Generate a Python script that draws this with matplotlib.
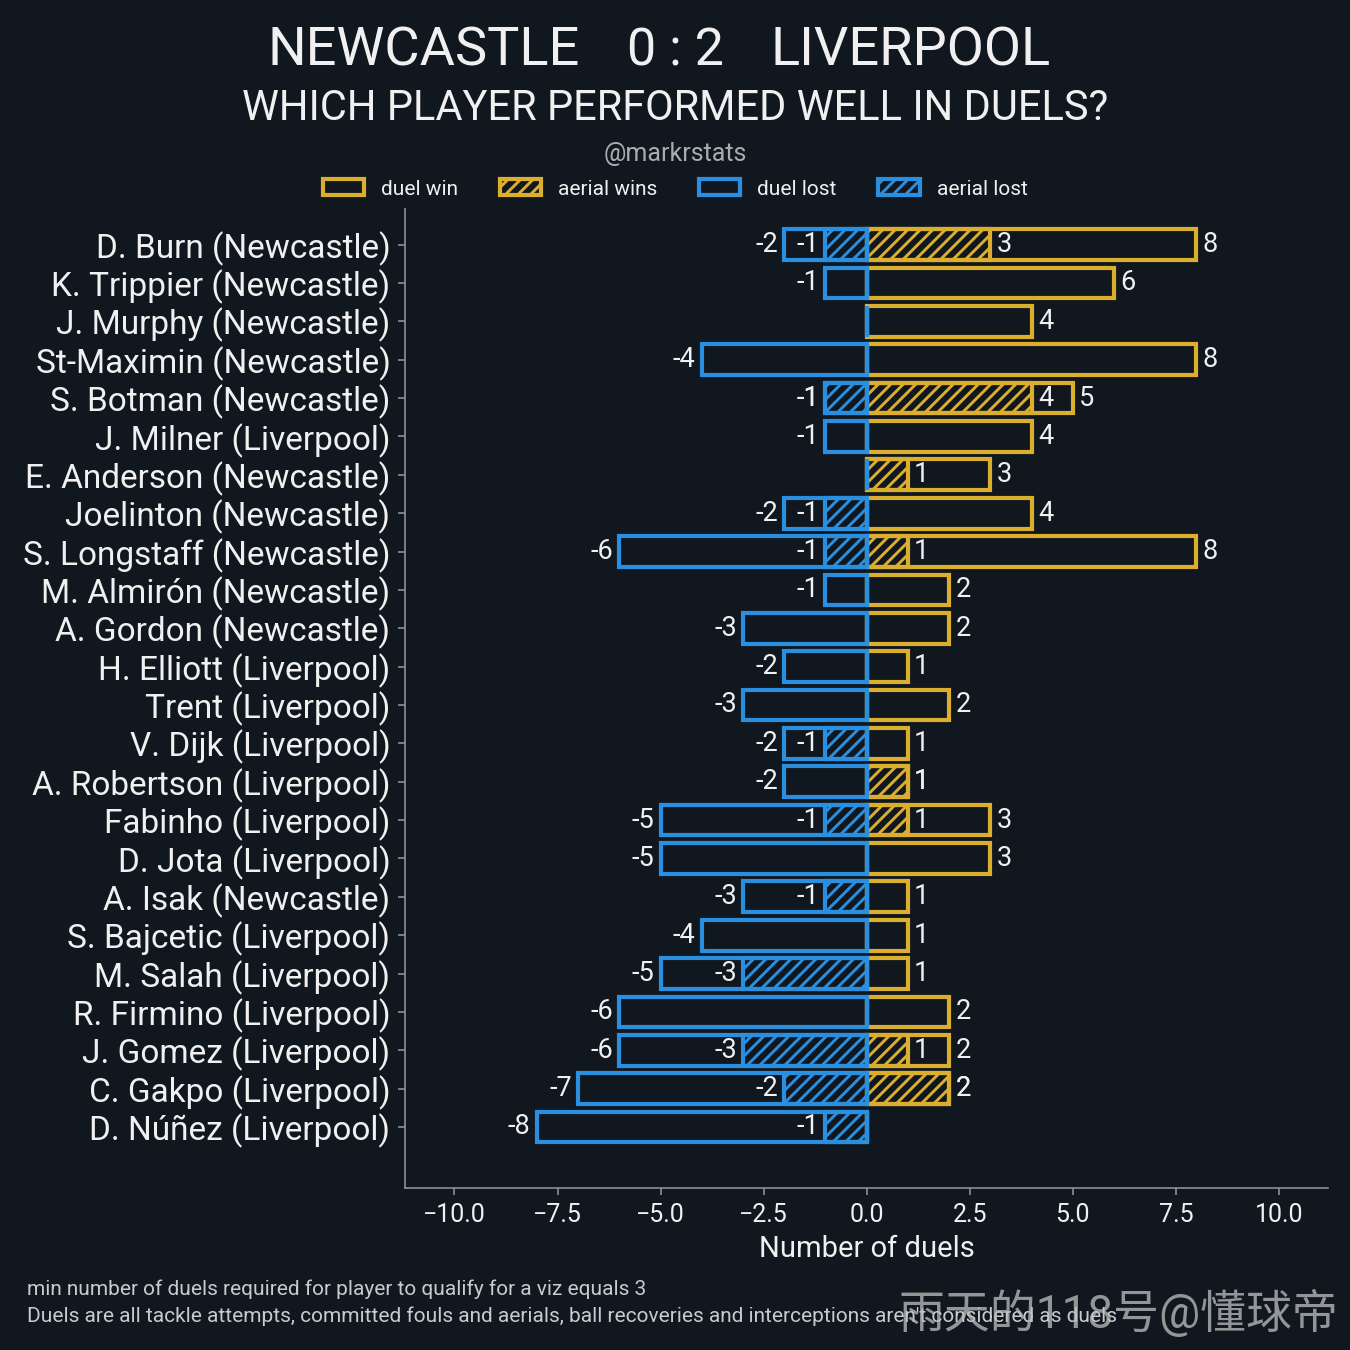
import matplotlib
matplotlib.use('Agg')
import matplotlib.pyplot as plt
import numpy as np

plt.rcParams['font.family'] = ['Roboto', 'Noto Sans CJK SC', 'DejaVu Sans']
plt.rcParams['hatch.linewidth'] = 1.4

BG = '#10171e'
YELLOW = '#dcae2e'
BLUE = '#2b8fe0'
TEXT = '#f0f0f0'
GREY = '#8a9298'

players = ['D. Burn (Newcastle)', 'K. Trippier (Newcastle)', 'J. Murphy (Newcastle)',
           'St-Maximin (Newcastle)', 'S. Botman (Newcastle)', 'J. Milner (Liverpool)',
           'E. Anderson (Newcastle)', 'Joelinton (Newcastle)', 'S. Longstaff (Newcastle)',
           'M. Almirón (Newcastle)', 'A. Gordon (Newcastle)', 'H. Elliott (Liverpool)',
           'Trent (Liverpool)', 'V. Dijk (Liverpool)', 'A. Robertson (Liverpool)',
           'Fabinho (Liverpool)', 'D. Jota (Liverpool)', 'A. Isak (Newcastle)',
           'S. Bajcetic (Liverpool)', 'M. Salah (Liverpool)', 'R. Firmino (Liverpool)',
           'J. Gomez (Liverpool)', 'C. Gakpo (Liverpool)', 'D. Núñez (Liverpool)']
duel_win = [8, 6, 4, 8, 5, 4, 3, 4, 8, 2, 2, 1, 2, 1, 1, 3, 3, 1, 1, 1, 2, 2, 2, 0]
aerial_win = [3, 0, 0, 0, 4, 0, 1, 0, 1, 0, 0, 0, 0, 0, 1, 1, 0, 0, 0, 0, 0, 1, 2, 0]
duel_lost = [-2, -1, 0, -4, -1, -1, 0, -2, -6, -1, -3, -2, -3, -2, -2, -5, -5, -3, -4, -5,
             -6, -6, -7, -8]
aerial_lost = [-1, 0, 0, 0, -1, 0, 0, -1, -1, 0, 0, 0, 0, -1, 0, -1, 0, -1, 0, -3, 0, -3,
               -2, -1]


def labels_for(vals):
    return ['' if v == 0 else str(v) for v in vals]


fig = plt.figure(figsize=(9, 9), dpi=150, facecolor=BG)
ax = fig.add_axes([0.30, 0.12, 0.684, 0.744], facecolor=BG)

y = np.arange(len(players))
lw = 2.0
b1 = ax.barh(y, duel_win, height=0.8, facecolor='none', edgecolor=YELLOW, lw=lw,
             label='duel win')
b2 = ax.barh(y, aerial_win, height=0.8, facecolor='none', edgecolor=YELLOW, lw=lw,
             hatch='////', label='aerial wins')
b3 = ax.barh(y, duel_lost, height=0.8, facecolor='none', edgecolor=BLUE, lw=lw,
             label='duel lost')
b4 = ax.barh(y, aerial_lost, height=0.8, facecolor='none', edgecolor=BLUE, lw=lw,
             hatch='////', label='aerial lost')

for bars, vals in [(b1, duel_win), (b2, aerial_win), (b3, duel_lost), (b4, aerial_lost)]:
    ax.bar_label(bars, labels=labels_for(vals), padding=3, color=TEXT, fontsize=13)

ax.set_yticks(y)
ax.set_yticklabels(players, fontsize=16, color=TEXT)
ax.invert_yaxis()
ax.set_xlim(-11.2, 11.2)
ax.set_xticks(np.arange(-10, 10.1, 2.5))
ax.set_xticklabels([f'{v:.1f}'.replace('-', '\u2212') for v in np.arange(-10, 10.1, 2.5)])
ax.tick_params(axis='x', colors=GREY, labelcolor=TEXT, labelsize=12)
ax.tick_params(axis='y', colors=GREY, labelcolor=TEXT)
ax.set_xlabel('Number of duels', color=TEXT, fontsize=14)
for s in ['top', 'right']:
    ax.spines[s].set_visible(False)
for s in ['left', 'bottom']:
    ax.spines[s].set_color(GREY)

fig.legend(handles=[b1, b2, b3, b4], loc='center', bbox_to_anchor=(0.5, 1 - 189 / 1350),
           ncol=4, fontsize=10, facecolor=BG, edgecolor=BG, framealpha=1,
           labelcolor=TEXT, handleheight=0.8)

# title: home team, score, away team
ty = 1 - 51 / 1350
fig.text(580 / 1350, ty, 'NEWCASTLE', ha='right', va='center', fontsize=26, color=TEXT)
fig.text(0.5, ty, '0 : 2', ha='center', va='center', fontsize=25, color=TEXT)
fig.text(770 / 1350, ty, 'LIVERPOOL', ha='left', va='center', fontsize=26, color=TEXT)
fig.text(0.5, 1 - 108 / 1350, 'WHICH PLAYER PERFORMED WELL IN DUELS?', ha='center',
         va='center', fontsize=20, color=TEXT)
fig.text(0.5, 1 - 154 / 1350, '@markrstats', ha='center', va='center', fontsize=12,
         color='#a9adb0')

fig.text(0.02, 1 - 1289 / 1350, 'min number of duels required for player to qualify for a viz equals 3',
         ha='left', va='center', fontsize=10, color='#c8cbcd')
fig.text(0.02, 1 - 1316 / 1350,
         "Duels are all tackle attempts, committed fouls and aerials, ball recoveries and interceptions aren't considered as duels",
         ha='left', va='center', fontsize=10, color='#c8cbcd')
# watermark sits over the end of the footer line, as in the source image
fig.text(0.991, 1 - 1313 / 1350, '雨天的118号@懂球帝', ha='right', va='center', fontsize=22,
         color='#c0c0c0', alpha=0.75)

fig.savefig('out.png', dpi=150, facecolor=BG)
